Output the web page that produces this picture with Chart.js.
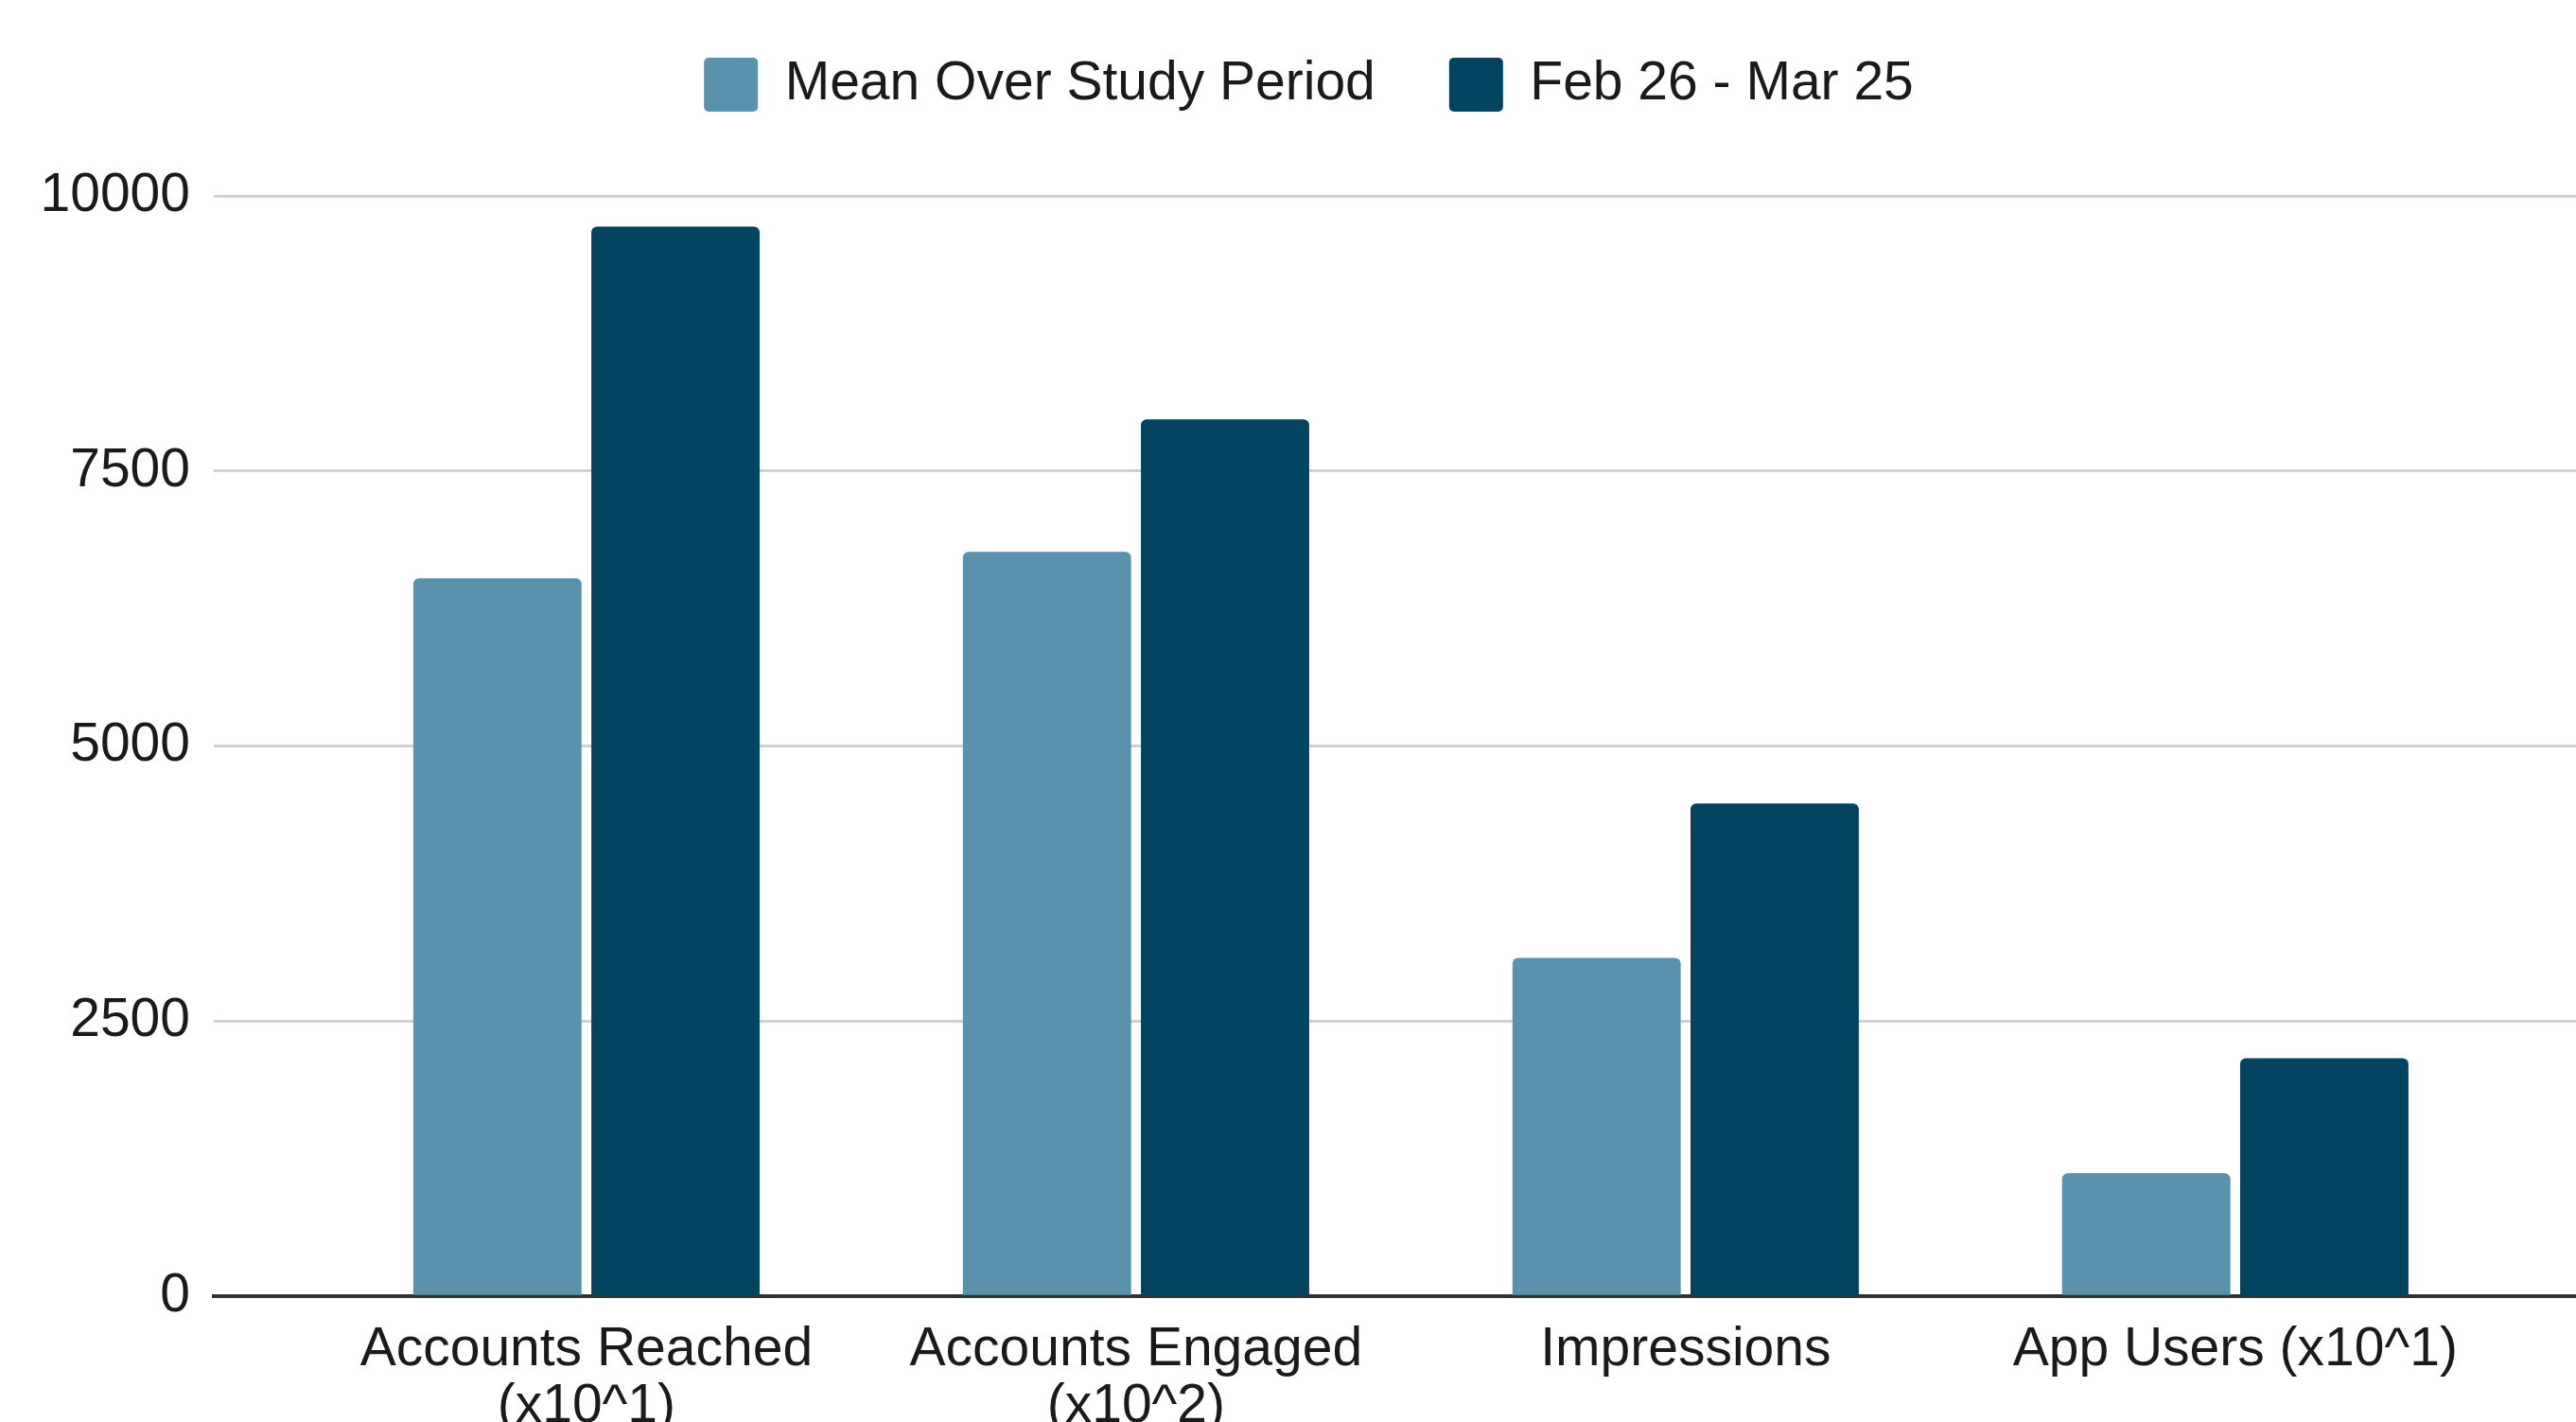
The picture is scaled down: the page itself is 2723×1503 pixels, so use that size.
<!DOCTYPE html>
<html>
<head>
<meta charset="utf-8">
<script src="https://cdn.jsdelivr.net/npm/chart.js@4.4.1/dist/chart.umd.min.js"></script>
<style>
  html, body { margin: 0; padding: 0; background: #fff; overflow: hidden; }
  #wrap { position: absolute; left: 0; top: -17px; width: 2723px; height: 1561px; }
</style>
</head>
<body>
<div id="wrap"><canvas id="chart"></canvas></div>
<script>
// categories on the x axis (multi-line labels as arrays)
const categories = [
  ["Accounts Reached", "(x10^1)"],
  ["Accounts Engaged", "(x10^2)"],
  "Impressions",
  "App Users (x10^1)",
];
const seriesNames = ["Mean Over Study Period", "Feb 26 - Mar 25"];
const meanValues = [6525, 6765, 3075, 1120];
const periodValues = [9720, 7970, 4480, 2165];
const yTicks = [0, 2500, 5000, 7500, 10000];

const lightBlue = "#5a91ad";
const darkBlue = "#02445f";
const textColor = "#1a1a1a";
const fontFamily = "'Liberation Sans', Arial, Helvetica, sans-serif";

// push the plot area down below the legend
const legendGap = {
  id: "legendGap",
  beforeInit(chart) {
    const origFit = chart.legend.fit;
    chart.legend.fit = function () {
      origFit.bind(chart.legend)();
      this.height += 79;
    };
  },
};

const toPoints = (arr) => arr.map((v, i) => ({ x: i, y: v }));

const ctx = document.getElementById("chart");
new Chart(ctx, {
  type: "bar",
  data: {
    datasets: [
      {
        label: seriesNames[0],
        data: toPoints(meanValues),
        backgroundColor: lightBlue,
        borderRadius: { topLeft: 6, topRight: 6 },
        borderSkipped: "start",
      },
      {
        label: seriesNames[1],
        data: toPoints(periodValues),
        backgroundColor: darkBlue,
        borderRadius: { topLeft: 6, topRight: 6 },
        borderSkipped: "start",
      },
    ],
  },
  options: {
    responsive: true,
    maintainAspectRatio: false,
    animation: false,
    datasets: {
      bar: {
        categoryPercentage: 0.648,
        barPercentage: 0.945,
      },
    },
    layout: {
      padding: { left: 44, right: 0, top: 0, bottom: 0 },
    },
    plugins: {
      legend: {
        display: true,
        position: "top",
        align: "center",
        labels: {
          color: textColor,
          font: { family: fontFamily, size: 57 },
          boxWidth: 57,
          boxHeight: 57,
          padding: 78,
          useBorderRadius: true,
          borderRadius: 5,
        },
      },
      tooltip: { enabled: false },
    },
    scales: {
      x: {
        type: "linear",
        offset: false,
        min: -0.678,
        max: 3.62,
        afterBuildTicks: (axis) => {
          axis.ticks = categories.map((c, i) => ({ value: i }));
        },
        ticks: {
          color: textColor,
          font: { family: fontFamily, size: 57, lineHeight: 1.05 },
          padding: 27,
          maxRotation: 0,
          autoSkip: false,
          callback: (value) => categories[value],
        },
        grid: { display: false, drawTicks: false, offset: false },
        border: { display: true, color: "#333333", width: 4 },
      },
      y: {
        min: 0,
        max: 10000,
        afterFit: (axis) => {
          axis.width = 182;
        },
        afterBuildTicks: (axis) => {
          axis.ticks = yTicks.map((v) => ({ value: v }));
        },
        ticks: {
          color: textColor,
          font: { family: fontFamily, size: 57 },
          padding: 25,
          callback: (value) => String(value),
        },
        grid: {
          drawTicks: false,
          lineWidth: 3,
          color: (c) => (c.tick && c.tick.value === 0 ? "#333333" : "#d0d0d0"),
        },
        border: { display: false },
      },
    },
  },
  plugins: [legendGap],
});
</script>
</body>
</html>
